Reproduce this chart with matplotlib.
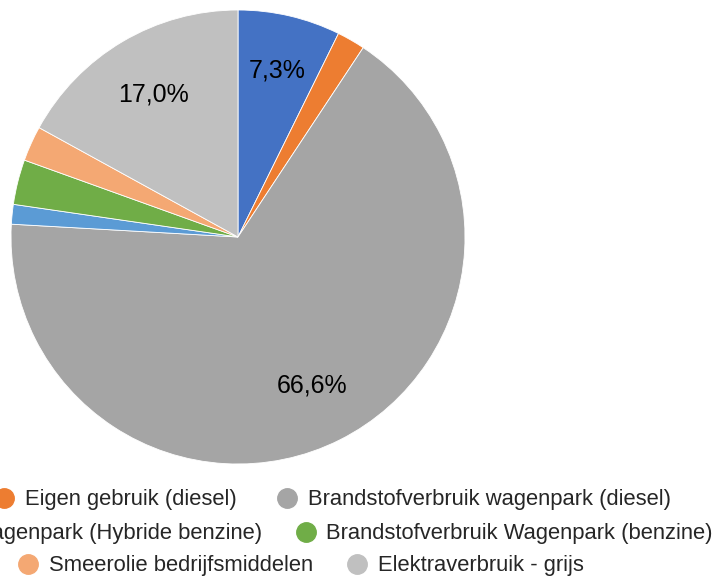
import matplotlib.pyplot as plt
from matplotlib.lines import Line2D

plt.rcParams["font.family"] = ["Liberation Sans", "DejaVu Sans"]

labels = [
    "Aardgasverbruik",
    "Eigen gebruik (diesel)",
    "Brandstofverbruik wagenpark (diesel)",
    "Brandstofverbruik Wagenpark (Hybride benzine)",
    "Brandstofverbruik Wagenpark (benzine)",
    "Smeerolie bedrijfsmiddelen",
    "Elektraverbruik - grijs",
]
shares = [7.3, 2.0, 66.6, 1.4, 3.2, 2.5, 17.0]
colors = ["#4472C4", "#ED7D31", "#A5A5A5", "#5B9BD5", "#70AD47", "#F4A873", "#C0C0C0"]
shown_labels = {"7,3%", "66,6%", "17,0%"}

W, H = 714, 576
fig = plt.figure(figsize=(W / 100, H / 100), dpi=100)

cx, cy, r = 238, 237, 227
ax = fig.add_axes([(cx - r) / W, (H - cy - r) / H, 2 * r / W, 2 * r / H])


def fmt(p):
    s = f"{p:.1f}%".replace(".", ",")
    return s if s in shown_labels else ""


wedges, texts, autotexts = ax.pie(
    shares,
    colors=colors,
    startangle=90,
    counterclock=False,
    autopct=fmt,
    pctdistance=0.73,
    wedgeprops=dict(edgecolor="white", linewidth=0.6),
    textprops=dict(fontsize=18, color="black"),
)
ax.set_xlim(-1, 1)
ax.set_ylim(-1, 1)
ax.set_aspect("equal")
# Excel zet het label van de kleine blauwe sector iets verder naar buiten
px, py = autotexts[0].get_position()
autotexts[0].set_position((px * 1.03, py * 1.03))


def handle(c):
    return Line2D([], [], marker="o", linestyle="none", markersize=14,
                  markerfacecolor=c, markeredgecolor=c)


rows = [
    ([0, 1, 2], "center right", 671 / W, 1 - 500 / H, 1.8),
    ([3, 4], "center right", 713 / W, 1 - 534 / H, 1.5),
    ([5, 6], "center left", 17 / W, 1 - 566 / H, 1.5),
]
for idx, loc, x, y, colsp in rows:
    leg = fig.legend(
        [handle(colors[i]) for i in idx],
        [labels[i] for i in idx],
        loc=loc,
        bbox_to_anchor=(x, y),
        ncol=len(idx),
        frameon=False,
        fontsize=15.8,
        handlelength=1.0,
        handletextpad=0.45,
        columnspacing=colsp,
        borderpad=0,
        borderaxespad=0,
    )
    for t in leg.get_texts():
        t.set_color("#262626")

fig.savefig("out.png", dpi=100)
